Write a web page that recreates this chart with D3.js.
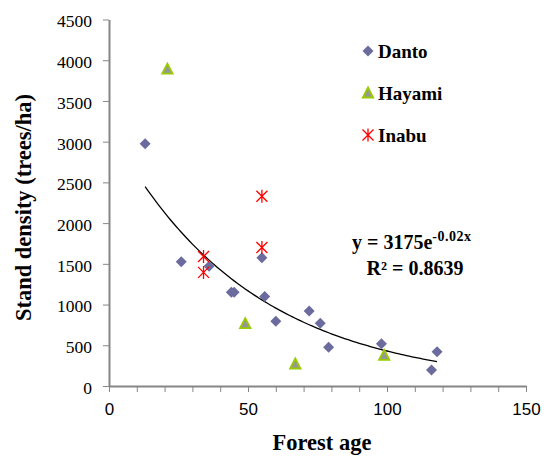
<!DOCTYPE html>
<head>
<meta charset="utf-8">
<style>
body { margin: 0; background: #fff; }
.axis path, .axis line { stroke: #868686; }
.axis .domain { stroke-width: 2; }
.y-axis text { font-family: "Liberation Serif", serif; font-size: 17.5px; fill: #000; }
.x-axis text { font-family: "Liberation Sans", sans-serif; font-size: 17px; fill: #000; }
.title { font-family: "Liberation Serif", serif; font-weight: bold; fill: #000; }
</style>
</head>
<body>
<div class="chart"></div>
<script src="https://d3js.org/d3.v7.min.js"></script>
<script>
// forest age / stand density (trees/ha)
const dantoAge = [13, 26, 36, 44, 45, 55, 56, 60, 72, 76, 79, 98, 118, 116];
const dantoDensity = [2975, 1525, 1470, 1150, 1150, 1575, 1100, 795, 920, 770, 475, 520, 420, 195];
const hayamiAge = [21, 49, 67, 99];
const hayamiDensity = [3890, 765, 270, 375];
const inabuAge = [34, 34, 55, 55];
const inabuDensity = [1590, 1395, 2330, 1700];
const xTicks = [0, 50, 100, 150];
const yTicks = [0, 500, 1000, 1500, 2000, 2500, 3000, 3500, 4000, 4500];
const fitA = 3175, fitB = -0.02, fitRange = [13, 118];

const width = 550, height = 456;
const margin = { top: 19.5, right: 24, bottom: 70, left: 109 };

const svg = d3.select(".chart").append("svg")
    .attr("width", width)
    .attr("height", height);

const x = d3.scaleLinear().domain([0, 150]).range([margin.left, width - margin.right]);
const y = d3.scaleLinear().domain([0, 4500]).range([height - margin.bottom, margin.top]);

// axes
svg.append("g")
    .attr("class", "axis x-axis")
    .attr("transform", "translate(0," + y(0) + ")")
    .call(d3.axisBottom(x).tickValues(d3.range(0, 151, 10)).tickSize(6).tickSizeOuter(0)
        .tickFormat(d => xTicks.includes(d) ? d : ""))
    .selectAll("text").attr("y", 29).attr("dy", 0);

svg.append("g")
    .attr("class", "axis y-axis")
    .attr("transform", "translate(" + x(0) + ",0)")
    .call(d3.axisLeft(y).tickValues(yTicks).tickFormat(d3.format("d"))
        .tickSize(6).tickSizeOuter(0).tickPadding(11))
    .selectAll("text").attr("dy", "0.42em");

// trendline
const fit = d3.range(fitRange[0], fitRange[1] + 0.5, 1).map(a => [a, fitA * Math.exp(fitB * a)]);
svg.append("path")
    .datum(fit)
    .attr("fill", "none")
    .attr("stroke", "#000")
    .attr("stroke-width", 1.3)
    .attr("d", d3.line().x(d => x(d[0])).y(d => y(d[1])));

// markers
function diamond(g, cx, cy) {
    g.append("path")
        .attr("d", `M${cx},${cy - 5.5}L${cx + 5.5},${cy}L${cx},${cy + 5.5}L${cx - 5.5},${cy}Z`)
        .attr("fill", "#6B6B9E");
}
function triangle(g, cx, cy) {
    g.append("path")
        .attr("d", `M${cx},${cy - 5.5}L${cx + 5.2},${cy + 4.5}L${cx - 5.2},${cy + 4.5}Z`)
        .attr("fill", "#969696")
        .attr("stroke", "#99CC00")
        .attr("stroke-width", 1.8);
}
function star(g, cx, cy) {
    const s = 5.5;
    g.append("path")
        .attr("d", `M${cx - s},${cy - s}L${cx + s},${cy + s}M${cx + s},${cy - s}L${cx - s},${cy + s}M${cx},${cy - s - 1}L${cx},${cy + s + 1}`)
        .attr("stroke", "#FF0000")
        .attr("stroke-width", 1.3)
        .attr("fill", "none");
}

const pts = svg.append("g");
dantoAge.forEach((a, i) => diamond(pts, x(a), y(dantoDensity[i])));
hayamiAge.forEach((a, i) => triangle(pts, x(a), y(hayamiDensity[i])));
inabuAge.forEach((a, i) => star(pts, x(a), y(inabuDensity[i])));

// legend
const legend = [["Danto", diamond], ["Hayami", triangle], ["Inabu", star]];
legend.forEach((l, i) => {
    const ly = 51 + i * 42;
    l[1](svg, 368, ly);
    svg.append("text")
        .attr("class", "title")
        .attr("x", 378)
        .attr("y", ly + 6.5)
        .style("font-size", "19px")
        .text(l[0]);
});

// equation
const eq = svg.append("text")
    .attr("class", "title")
    .attr("x", 352)
    .attr("y", 249)
    .style("font-size", "20px");
eq.append("tspan").text("y = 3175e");
eq.append("tspan").attr("dy", -8).style("font-size", "14px").style("letter-spacing", "0.5px").text("-0.02x");
svg.append("text")
    .attr("class", "title")
    .attr("x", 415)
    .attr("y", 275)
    .attr("text-anchor", "middle")
    .style("font-size", "20px")
    .text("R² = 0.8639");

// axis titles
svg.append("text")
    .attr("class", "title")
    .attr("x", 322)
    .attr("y", 450)
    .attr("text-anchor", "middle")
    .style("font-size", "22.5px")
    .text("Forest age");

svg.append("text")
    .attr("class", "title")
    .attr("transform", "translate(31,207.5) rotate(-90)")
    .attr("text-anchor", "middle")
    .style("font-size", "22.5px")
    .text("Stand density (trees/ha)");
</script>
</body>
